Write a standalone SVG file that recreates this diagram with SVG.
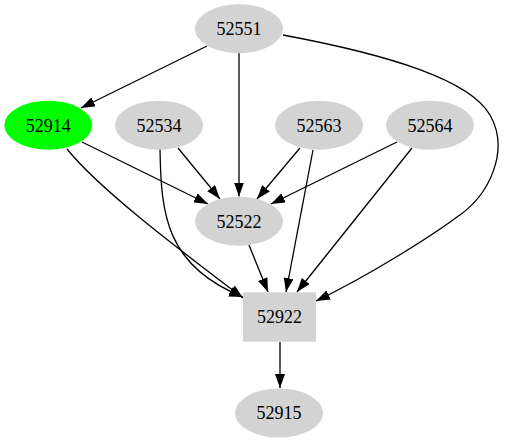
<svg xmlns="http://www.w3.org/2000/svg" width="505" height="443" viewBox="0 0 505 443">
<defs>
<marker id="ah" markerUnits="userSpaceOnUse" markerWidth="14" markerHeight="10" refX="14" refY="5" orient="auto">
<path d="M0,0 L14,5 L0,10 z" fill="#000"/>
</marker>
<style>
.n{fill:#d3d3d3;stroke:none}
.g{fill:#00ff00;stroke:none}
.t{font-family:"Liberation Serif","Times New Roman",serif;font-size:18px;fill:#000;text-anchor:middle}
.e{fill:none;stroke:#000;stroke-width:1.3;marker-end:url(#ah)}
</style>
</defs>
<rect width="505" height="443" fill="#fff"/>
<g id="edges">
<path class="e" d="M207,46 L81,108"/>
<path class="e" d="M239,53 L239,196.5"/>
<path class="e" d="M283,35 C390,55 470,80 490,115 C510,150 490,195 457,217 C430,237 370,275 316,301"/>
<path class="e" d="M82,142 L208,204"/>
<path class="e" d="M67,149 C100,190 180,250 243,298"/>
<path class="e" d="M178,148 L220,199"/>
<path class="e" d="M160,149 C161,215 166,266 243,297"/>
<path class="e" d="M300,148 L257,199"/>
<path class="e" d="M313,150 L286,292"/>
<path class="e" d="M397,142 L271,204"/>
<path class="e" d="M412,148 L297,292"/>
<path class="e" d="M249,245 L268,292"/>
<path class="e" d="M280,342 L280,388"/>
</g>
<g id="n52551"><ellipse class="n" cx="239" cy="28.7" rx="44" ry="24.5"/><text class="t" x="239" y="35">52551</text></g>
<g id="n52914"><ellipse class="g" cx="48.3" cy="125.2" rx="44" ry="24.5"/><text class="t" x="48.3" y="131.5">52914</text></g>
<g id="n52534"><ellipse class="n" cx="159" cy="125.2" rx="44" ry="24.5"/><text class="t" x="159" y="131.5">52534</text></g>
<g id="n52563"><ellipse class="n" cx="319" cy="125.2" rx="44" ry="24.5"/><text class="t" x="319" y="131.5">52563</text></g>
<g id="n52564"><ellipse class="n" cx="430" cy="125.2" rx="44" ry="24.5"/><text class="t" x="430" y="131.5">52564</text></g>
<g id="n52522"><ellipse class="n" cx="239" cy="221.2" rx="44" ry="24.5"/><text class="t" x="239" y="227.5">52522</text></g>
<g id="n52922"><rect class="n" x="243" y="292.3" width="73" height="49.4"/><text class="t" x="279.5" y="323.3">52922</text></g>
<g id="n52915"><ellipse class="n" cx="279" cy="413" rx="44" ry="24.5"/><text class="t" x="279" y="419.3">52915</text></g>
</svg>
